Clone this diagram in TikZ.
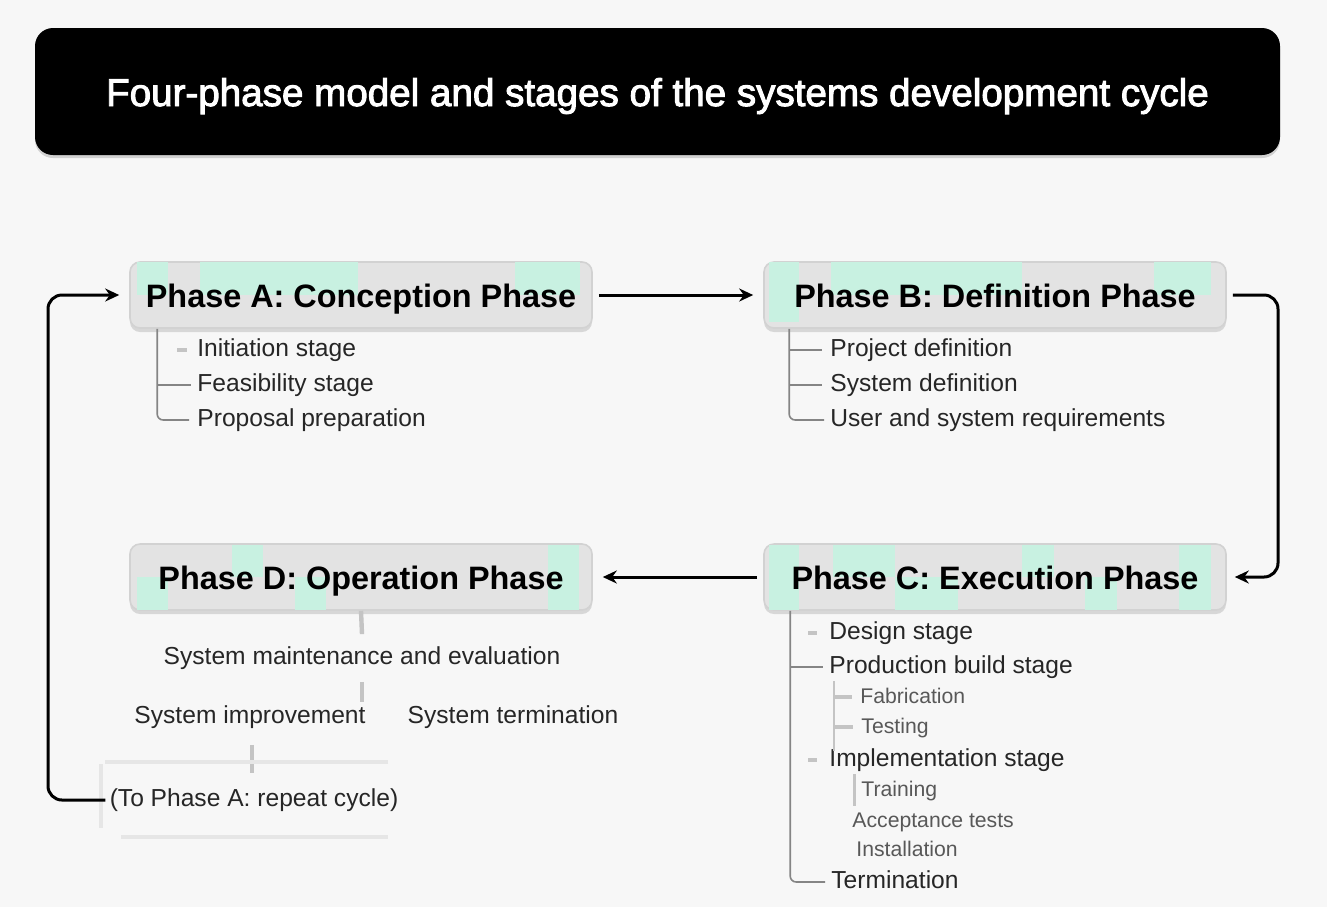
\documentclass[tikz,border=0pt]{standalone}
\usepackage{fontspec}
\setmainfont{Liberation Sans}
\newfontfamily\titlefont[FakeBold=2.5]{Liberation Sans}
\usetikzlibrary{arrows.meta,shadows,calc}
\definecolor{bgc}{HTML}{F7F7F7}
\definecolor{boxc}{HTML}{E3E3E3}
\definecolor{boxline}{HTML}{D2D2D2}
\definecolor{mint}{HTML}{C8F1E1}
\definecolor{treec}{HTML}{858585}
\definecolor{lighttree}{HTML}{C4C4C4}
\definecolor{faint}{HTML}{E6E6E6}
\definecolor{itemc}{HTML}{262626}
\definecolor{subc}{HTML}{585858}
\begin{document}
\begin{tikzpicture}[x=0.5pt,y=-0.5pt,
  phase/.style={draw=boxline, line width=0.8pt, fill=boxc, rounded corners=5pt,
    minimum width=231pt, minimum height=33pt, inner sep=0pt,
    drop shadow={shadow xshift=0pt, shadow yshift=-2pt, fill=black!30, opacity=0.45}},
  phasetext/.style={inner sep=0pt, text height=12pt, text depth=0pt,
    font=\fontsize{16.2}{18}\selectfont\bfseries, text=black},
  flow/.style={draw=black, line width=1.5pt, rounded corners=7pt,
    -{Stealth[length=7pt,width=6.5pt]}},
  tree/.style={draw=treec, line width=0.8pt, rounded corners=3pt},
  ltree/.style={draw=lighttree, line width=1.6pt},
  item/.style={anchor=west, inner sep=0pt, text=itemc, text height=9pt, text depth=2.5pt,
    font=\fontsize{12.3}{14}\selectfont},
  citem/.style={inner sep=0pt, text=itemc, text height=9pt, text depth=2.5pt,
    font=\fontsize{12.3}{14}\selectfont},
  sub/.style={anchor=west, inner sep=0pt, text=subc, text height=8pt, text depth=2pt,
    font=\fontsize{10.6}{12}\selectfont}
]
% background
\fill[bgc] (0,0) rectangle (1327,907);
\useasboundingbox (0,0) rectangle (1327,907);

% title
\node[fill=black, rounded corners=9pt, minimum width=622.5pt, minimum height=63.5pt,
  inner sep=0pt, text=white, text height=14.5pt, text depth=0pt,
  font=\titlefont\fontsize{19.3}{22}\selectfont,
  drop shadow={shadow xshift=0pt, shadow yshift=-1.5pt, fill=black!40, opacity=0.4}]
  (T) at (657.5,91.5) {Four-phase model and stages of the systems development cycle};

% phase boxes
\node[phase] (A) at (361,295) {};
\node[phase] (B) at (995,295) {};
\node[phase] (C) at (995,577) {};
\node[phase] (D) at (361,577) {};
% mint patches
\begin{scope}
  \clip[rounded corners=5pt] (A.north west) rectangle (A.south east);
  \fill[mint] (137,262) rectangle (168,295);
  \fill[mint] (200,262) rectangle (358,295);
  \fill[mint] (515,262) rectangle (580,295);
\end{scope}
\begin{scope}
  \clip[rounded corners=5pt] (B.north west) rectangle (B.south east);
  \fill[mint] (769,262) rectangle (799,322);
  \fill[mint] (831,262) rectangle (1022,295);
  \fill[mint] (1154,262) rectangle (1211,295);
\end{scope}
\begin{scope}
  \clip[rounded corners=5pt] (C.north west) rectangle (C.south east);
  \fill[mint] (769,545) rectangle (799,610);
  \fill[mint] (833,545) rectangle (895,577);
  \fill[mint] (895,577) rectangle (958,610);
  \fill[mint] (1022,545) rectangle (1054,577);
  \fill[mint] (1085,577) rectangle (1117,610);
  \fill[mint] (1179,545) rectangle (1211,610);
\end{scope}
\begin{scope}
  \clip[rounded corners=5pt] (D.north west) rectangle (D.south east);
  \fill[mint] (137,577) rectangle (168,610);
  \fill[mint] (232,545) rectangle (263,577);
  \fill[mint] (295,577) rectangle (326,610);
  \fill[mint] (548,545) rectangle (579,610);
\end{scope}
\node[phasetext] (At) at (A) {Phase A: Conception Phase};
\node[phasetext] (Bt) at (B) {Phase B: Definition Phase};
\node[phasetext] (Ct) at (C) {Phase C: Execution Phase};
\node[phasetext] (Dt) at (D) {Phase D: Operation Phase};

% Phase A items
\node[item] (a1) at (197,350) {Initiation stage};
\node[item] (a2) at (197,385) {Feasibility stage};
\node[item] (a3) at (197,420) {Proposal preparation};
\coordinate (sa) at ($(A.south west)+(28,0)$);
\draw[tree] (sa) |- ([xshift=-4pt]a3.west);
\draw[tree] (sa |- a2.west) -- ([xshift=-3pt]a2.west);
\draw[ltree] ([xshift=10]sa |- a1.west) -- ([xshift=-5pt]a1.west);

% Phase B items
\node[item] (b1) at (830,350) {Project definition};
\node[item] (b2) at (830,385) {System definition};
\node[item] (b3) at (830,420) {User and system requirements};
\coordinate (sb) at ($(B.south west)+(26,0)$);
\draw[tree] (sb) |- ([xshift=-3pt]b3.west);
\draw[tree] (sb |- b1.west) -- ([xshift=-4pt]b1.west);
\draw[tree] (sb |- b2.west) -- ([xshift=-4pt]b2.west);

% Phase C items
\node[item] (c1) at (829,633) {Design stage};
\node[item] (c2) at (829,667) {Production build stage};
\node[sub] (c21) at (860,697) {Fabrication};
\node[sub] (c22) at (861,727) {Testing};
\node[item] (c3) at (829,760) {Implementation stage};
\node[sub] (c31) at (861,790) {Training};
\node[sub] (c32) at (852,821) {Acceptance tests};
\node[sub] (c33) at (856,850) {Installation};
\node[item] (c4) at (831,882) {Termination};
\coordinate (sc) at ($(C.south west)+(27,0)$);
\coordinate (sc2) at ($(C.south west)+(71,0)$);
\draw[tree] (sc) |- ([xshift=-3pt]c4.west);
\draw[tree] (sc |- c2.west) -- ([xshift=-3pt]c2.west);
\draw[ltree] ([xshift=9]sc |- c1.west) -- ([xshift=-6pt]c1.west);
\draw[ltree] ([xshift=9]sc |- c3.west) -- ([xshift=-6pt]c3.west);
\draw[tree, draw=lighttree] ([yshift=8]sc2 |- c21.west) -- ([yshift=-12]sc2 |- c22.west);
\draw[ltree] (sc2 |- c21.west) -- ([xshift=-4pt]c21.west);
\draw[ltree] (sc2 |- c22.west) -- ([xshift=-4pt]c22.west);
\draw[ltree] ([xshift=10,yshift=8]sc2 |- c31.west) -- ([xshift=10,yshift=-8]sc2 |- c31.west);

% Phase D items
\node[citem] (d1) at (362,658) {System maintenance and evaluation};
\node[citem] (d2) at (250,717) {System improvement};
\node[citem] (d3) at (513,717) {System termination};
\node[citem] (d4) at (254,800) {(To Phase A: repeat cycle)};
\draw[ltree, line width=2.2pt] (D.south) -- ([yshift=6pt]d1.north);
\draw[ltree, line width=2.2pt] ([yshift=-6pt]d1.south) -- ++(0,20);
\draw[ltree, line width=2.2pt] ([xshift=1pt,yshift=-8pt]d2.south) -- ++(0,28);
\draw[draw=faint, line width=1.8pt] (388,762) -- (105,762);
\draw[draw=faint, line width=1.8pt] (101,764) -- (101,828);
\draw[draw=faint, line width=1.8pt] (121,837) -- (388,837);

% main flow
\coordinate (RB) at (1278,295);
\coordinate (LA) at (48,295);
\draw[flow, shorten <=3pt, shorten >=5pt] (A) -- (B);
\draw[flow, shorten <=3pt, shorten >=4pt] (B.east) -- (RB) |- (C.east);
\draw[flow, shorten <=3pt, shorten >=5pt] (C) -- (D);
\draw[flow, shorten <=2pt, shorten >=5pt] (d4.west) -| (LA) -- (A.west);
\end{tikzpicture}
\end{document}
